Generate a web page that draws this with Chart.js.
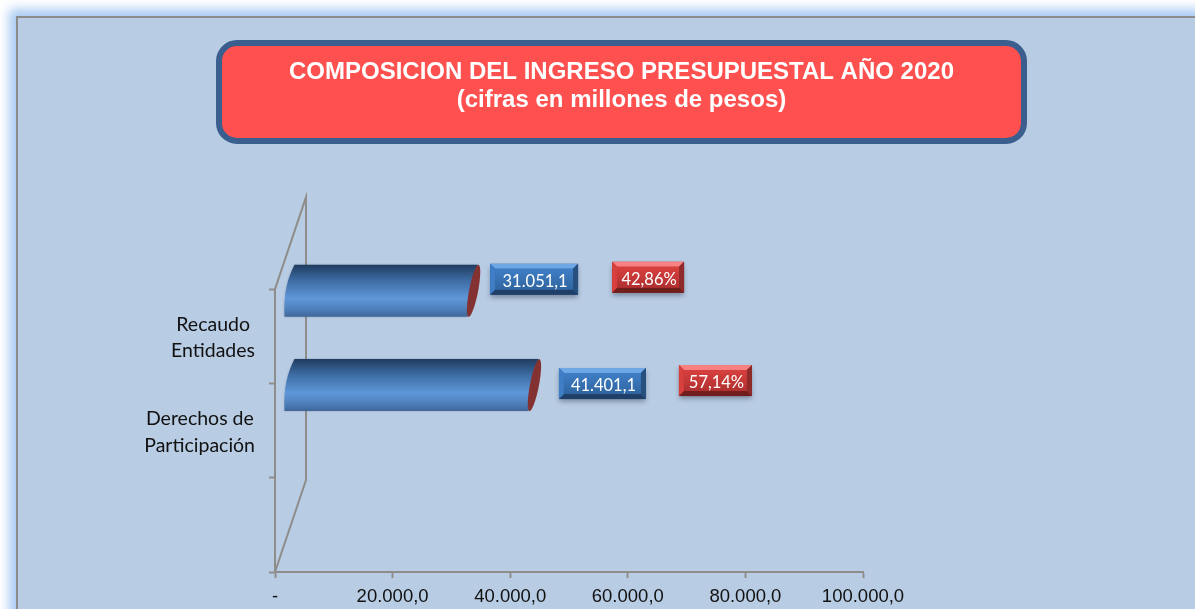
<!DOCTYPE html>
<html>
<head>
<meta charset="utf-8">
<title>Composicion del ingreso presupuestal 2020</title>
<script src="https://cdn.jsdelivr.net/npm/chart.js@4"></script>
<style>
    html, body { margin: 0; padding: 0; width: 1195px; height: 609px; overflow: hidden; background: #fff; }
    #marco {
        position: absolute; left: 16px; top: 16px; width: 1177px; height: 700px;
        background: #b8cce4; border: 2px solid #8c8c8c;
        box-shadow: 0 0 10px 7px #a9cbf3;
    }
    #grafico { position: absolute; left: 0; top: 0; }
</style>
</head>
<body>
<div id="marco"></div>
<canvas id="grafico" width="1195" height="609"></canvas>
<script>
const titulo = ['COMPOSICION DEL INGRESO PRESUPUESTAL AÑO 2020', '(cifras en millones de pesos)']
// trailing spaces keep the lines shifted like the original centred labels
const categorias = [['Recaudo ', 'Entidades'], ['Derechos de\u200A', 'Participación'], '']
const valores = [31051.1, 41401.1, null]
const etiquetasValor = ['31.051,1', '41.401,1']
const etiquetasPorcentaje = ['42,86%', '57,14%']
const etiquetasX = ['-', '20.000,0', '40.000,0', '60.000,0', '80.000,0', '100.000,0']

const GRIS = '#8e8d8a'
const FONDO_X = 10, FONDO_Y = -45.5   // 3d depth of the bars
const PARED_X = 31, PARED_Y = -92     // 3d depth of the back wall

// hand placed boxes, relative to the end of each bar
const cajas = [
    { valor: { dx: 22.5, dy: -27, w: 88, h: 31 }, pct: { dx: 144.5, dy: -29, w: 72, h: 31 } },
    { valor: { dx: 30.5, dy: -17, w: 87, h: 31 }, pct: { dx: 150.5, dy: -20, w: 73, h: 31 } }
]

const azul = { luz: '#6ea6e6', cara1: '#3f7ec6', cara2: '#2f659f', sombra: '#1f3f68', lado: '#27507f' }
const rojo = { luz: '#f98080', cara1: '#d8403e', cara2: '#b03030', sombra: '#6f1d1d', lado: '#8e2a2a' }

function caja(ctx, x, y, w, h, c, texto) {
    const b = 5
    ctx.save()
    ctx.shadowColor = 'rgba(40,50,70,0.45)'
    ctx.shadowBlur = 5
    ctx.shadowOffsetY = 3
    ctx.fillStyle = c.lado
    ctx.fillRect(x, y, w, h)
    ctx.restore()

    poligono(ctx, [[x, y], [x + w, y], [x + w - b, y + b], [x + b, y + b]], c.luz)
    poligono(ctx, [[x, y + h], [x + w, y + h], [x + w - b, y + h - b], [x + b, y + h - b]], c.sombra)
    poligono(ctx, [[x, y], [x + b, y + b], [x + b, y + h - b], [x, y + h]], c.cara1)
    poligono(ctx, [[x + w, y], [x + w - b, y + b], [x + w - b, y + h - b], [x + w, y + h]], c.lado)

    let g = ctx.createLinearGradient(0, y + b, 0, y + h - b)
    g.addColorStop(0, c.cara1)
    g.addColorStop(1, c.cara2)
    ctx.fillStyle = g
    ctx.fillRect(x + b, y + b, w - 2 * b, h - 2 * b)

    ctx.fillStyle = '#fff'
    ctx.font = '16.5px Lato'
    ctx.textAlign = 'center'
    ctx.textBaseline = 'middle'
    ctx.fillText(texto, x + w / 2 + 1, y + h / 2 + 2)
}

function poligono(ctx, puntos, color) {
    ctx.fillStyle = color
    ctx.beginPath()
    puntos.forEach((p, i) => i ? ctx.lineTo(p[0], p[1]) : ctx.moveTo(p[0], p[1]))
    ctx.closePath()
    ctx.fill()
}

function cilindro(ctx, inicio, fin, arriba, abajo) {
    const ladeo = 10
    let g = ctx.createLinearGradient(0, arriba, 0, abajo)
    g.addColorStop(0, '#203c60')
    g.addColorStop(0.3, '#3d6ca3')
    g.addColorStop(0.65, '#5f97d9')
    g.addColorStop(0.85, '#4f80bb')
    g.addColorStop(1, '#3e6699')

    ctx.save()
    ctx.shadowColor = 'rgba(50,60,80,0.35)'
    ctx.shadowBlur = 2
    ctx.fillStyle = g
    ctx.beginPath()
    ctx.moveTo(inicio + ladeo, arriba)
    ctx.lineTo(fin + ladeo, arriba)
    ctx.lineTo(fin, abajo)
    ctx.lineTo(inicio, abajo)
    ctx.bezierCurveTo(inicio - 1, abajo - 24, inicio + 3, arriba + 14, inicio + ladeo, arriba)
    ctx.closePath()
    ctx.fill()
    ctx.restore()

    // red cap at the end of the tube
    let alto = abajo - arriba
    ctx.fillStyle = '#843231'
    ctx.beginPath()
    ctx.ellipse(fin + ladeo / 2 + 1, arriba + alto / 2, Math.hypot(ladeo, alto) / 2, 4.5, Math.atan2(-alto, ladeo), 0, Math.PI * 2)
    ctx.fill()
}

const decoracion = {
    id: 'decoracion',
    beforeDraw(chart) {
        const ctx = chart.ctx
        ctx.save()
        ctx.fillStyle = '#ff5050'
        ctx.strokeStyle = '#3a5f8f'
        ctx.lineWidth = 6
        ctx.beginPath()
        ctx.roundRect(219, 43, 805, 98, 18)
        ctx.fill()
        ctx.stroke()
        ctx.restore()
    },
    afterLayout(chart) {
        // the title is centred on its box, not on the plot
        chart.titleBlock.left = 216
        chart.titleBlock.right = 1027
    },
    beforeDatasetsDraw(chart) {
        const ctx = chart.ctx, a = chart.chartArea
        ctx.save()
        ctx.strokeStyle = GRIS
        ctx.lineWidth = 2
        ctx.beginPath()
        ctx.moveTo(a.left, a.top)
        ctx.lineTo(a.left + PARED_X, a.top + PARED_Y)
        ctx.lineTo(a.left + PARED_X, a.bottom + PARED_Y)
        ctx.lineTo(a.left, a.bottom)
        ctx.stroke()
        ctx.restore()
    },
    afterDatasetsDraw(chart) {
        const ctx = chart.ctx
        chart.getDatasetMeta(0).data.forEach(function (barra, i) {
            if (valores[i] == null) return
            let medio = barra.height / 2
            let yc = barra.y + FONDO_Y
            cilindro(ctx, barra.base + FONDO_X - 1, barra.x + FONDO_X, yc - medio, yc + medio)

            let v = cajas[i].valor, p = cajas[i].pct
            caja(ctx, barra.x + FONDO_X + v.dx, yc + v.dy, v.w, v.h, azul, etiquetasValor[i])
            caja(ctx, barra.x + FONDO_X + p.dx, yc + p.dy, p.w, p.h, rojo, etiquetasPorcentaje[i])
        })
    }
}

new Chart(document.getElementById('grafico'), {
    type: 'bar',
    plugins: [decoracion],
    data: {
        labels: categorias,
        datasets: [{
            data: valores,
            backgroundColor: 'rgba(0,0,0,0)',
            barThickness: 52
        }]
    },
    options: {
        indexAxis: 'y',
        responsive: false,
        animation: false,
        layout: { padding: { left: 0, right: 332, top: 0, bottom: 0 } },
        plugins: {
            legend: { display: false },
            tooltip: { enabled: false },
            title: {
                display: true,
                text: titulo,
                color: '#ffffff',
                font: { family: 'Liberation Sans', size: 24, weight: 'bold', lineHeight: 1.17 },
                padding: { top: 58, bottom: 175 }
            }
        },
        scales: {
            x: {
                min: 0,
                max: 100000,
                border: { color: GRIS, width: 2 },
                grid: { drawOnChartArea: false, color: GRIS, tickLength: 6, tickWidth: 2 },
                afterFit(eje) { eje.height = 37 },
                ticks: {
                    stepSize: 20000,
                    maxRotation: 0,
                    autoSkip: false,
                    padding: 8,
                    color: '#111',
                    font: { family: 'Liberation Sans', size: 18.5 },
                    callback: (v, i) => etiquetasX[i]
                }
            },
            y: {
                border: { color: GRIS, width: 2 },
                grid: { drawOnChartArea: false, color: GRIS, tickLength: 6, tickWidth: 2 },
                // the tall tick labels would otherwise push the plot up from the bottom
                afterFit(eje) {
                    eje.width = 275
                    eje.paddingTop = 0
                    eje.paddingBottom = 0
                },
                ticks: {
                    padding: 14,
                    labelOffset: 1.5,
                    color: '#111',
                    font: { family: 'Lato', size: 19.5, lineHeight: 1.35 }
                }
            }
        }
    }
})
</script>
</body>
</html>
